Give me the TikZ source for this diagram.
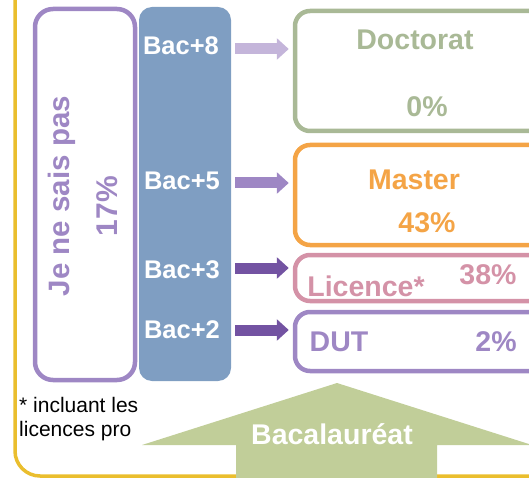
\documentclass[tikz,border=0pt]{standalone}
\usepackage{fontspec}
\setmainfont{Liberation Sans}
\usetikzlibrary{arrows.meta,positioning,calc}

\definecolor{frameyellow}{RGB}{234,190,46}
\definecolor{nspurple}{RGB}{158,135,196}
\definecolor{bacblue}{RGB}{127,158,194}
\definecolor{docgreen}{RGB}{169,185,150}
\definecolor{masterorange}{RGB}{244,164,70}
\definecolor{licpink}{RGB}{212,146,167}
\definecolor{bacgreen}{RGB}{193,206,153}
\definecolor{arrowlight}{RGB}{196,181,218}
\definecolor{arrowdark}{RGB}{115,83,162}

\tikzset{
  lvlbox/.style={draw, line width=4.5pt, rounded corners=15pt, minimum width=250pt, inner sep=0pt},
  lvltext/.style={font=\fontsize{28.5}{30}\selectfont\bfseries, inner sep=0pt},
  bactext/.style={font=\fontsize{25.5}{27}\selectfont\bfseries, text=white, inner sep=0pt},
  lvlarrow/.style={line width=11pt, -{Triangle[length=12pt,width=21pt]}, shorten >=4pt},
}

\begin{document}
\begin{tikzpicture}[x=1pt, y=-1pt]
          \useasboundingbox (0,0) rectangle (529,478);
          \clip (0,0) rectangle (529,478);

          % frame
          \draw[frameyellow, line width=3.5pt, rounded corners=25pt] (15,-10) |- (560,476);

          % left column
          \node[draw=nspurple, line width=4.5pt, rounded corners=18pt, minimum width=100pt, minimum height=371pt] (nsp) at (85,194.5) {};
          \node[lvltext, text=nspurple, rotate=90, font=\fontsize{29.5}{30}\selectfont\bfseries] (nsptext) at (62,196) {Je ne sais pas};
          \node[lvltext, text=nspurple, rotate=90, font=\fontsize{30}{30}\selectfont\bfseries] (nsppct) at (107,206) {17\%};

          \node[fill=bacblue, rounded corners=13pt, minimum width=92pt, minimum height=374pt] (blue) at (185,194) {};
          \node[bactext] (bac8) at (181,46) {Bac+8};
          \node[bactext] (bac5) at (182,181) {Bac+5};
          \node[bactext] (bac3) at (182,270) {Bac+3};
          \node[bactext] (bac2) at (182,330) {Bac+2};

          % levels
          \node[lvlbox, draw=docgreen, minimum height=120pt] (doct) at (420,71) {};
          \node[lvlbox, draw=masterorange, minimum height=100pt] (master) at (420,195) {};
          \node[lvlbox, draw=licpink, minimum height=46pt] (lic) at (420,278) {};
          \node[lvlbox, draw=nspurple, minimum height=59pt] (dut) at (420,341.5) {};

          \node[lvltext, text=docgreen] (docttext) at (415,40) {Doctorat};
          \node[lvltext, text=docgreen] (doctpct) at (427,107) {0\%};
          \node[lvltext, text=masterorange] (mastertext) at (414,180) {Master};
          \node[lvltext, text=masterorange] (masterpct) at (427,223) {43\%};
          \node[lvltext, text=licpink] (lictext) at (366,286) {Licence*};
          \node[lvltext, text=licpink] (licpct) at (488,275) {38\%};
          \node[lvltext, text=nspurple] (duttext) at (339,342) {DUT};
          \node[lvltext, text=nspurple] (dutpct) at (496,342) {2\%};

          % arrows
          \draw[lvlarrow, arrowlight] ([xshift=4pt, yshift=-3pt] bac8 -| blue.east) -- ([yshift=-3pt] bac8 -| doct.west);
          \draw[lvlarrow, nspurple] ([xshift=4pt, yshift=-2pt] bac5 -| blue.east) -- ([yshift=-2pt] bac5 -| master.west);
          \draw[lvlarrow, arrowdark] ([xshift=4pt, yshift=2pt] bac3 -| blue.east) -- ([yshift=2pt] bac3 -| lic.west);
          \draw[lvlarrow, arrowdark] ([xshift=4pt] bac2 -| blue.east) -- (bac2 -| dut.west);

          % bac
          \fill[bacgreen] (337,383) -- (532,445) -- (437,445) -- (437,480) -- (236,480) -- (236,445) -- (142,445) -- cycle;
          \node[lvltext, text=white] (bacbase) at (332,434) {Bacalauréat};

          % note
          \node[anchor=north west, inner sep=0pt, align=left, font=\fontsize{21}{24}\selectfont] (note) at (19,397) {* incluant les\\licences pro};
\end{tikzpicture}
\end{document}
